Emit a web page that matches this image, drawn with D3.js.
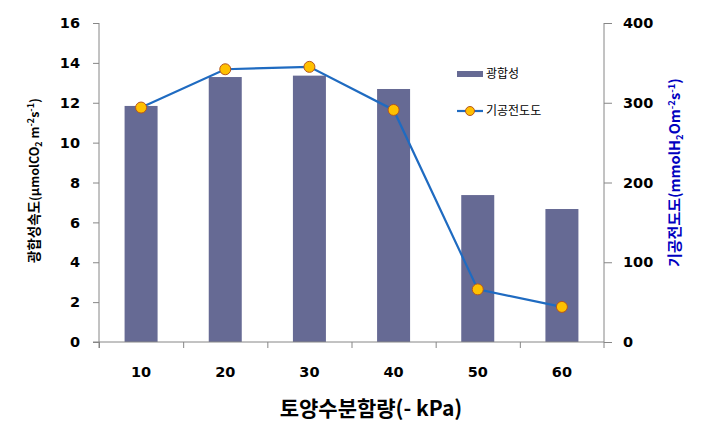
<!DOCTYPE html>
<html><head><meta charset="utf-8">
<script src="https://cdn.jsdelivr.net/npm/d3@7/dist/d3.min.js"></script>
<style>body{margin:0;background:#fff}svg{display:block}</style>
</head><body><svg id="c" width="713" height="433"></svg>
<script>
const categories = ["10","20","30","40","50","60"];
const photosynthesis = [11.84, 13.29, 13.36, 12.69, 7.37, 6.67];
const conductance = [294, 342, 345, 291, 66, 44];
const leftTicks = [0,2,4,6,8,10,12,14,16];
const rightTicks = [0,100,200,300,400];

const svg = d3.select("#c");
const L = 99, R = 604, T = 23, B = 342;
const xc = d3.scaleBand().domain(categories).range([L, R]);
const yL = d3.scaleLinear().domain([0,16]).range([B, T]);
const yR = d3.scaleLinear().domain([0,400]).range([B, T]);
const axisColor = "#868686";
const numFont = "'DejaVu Sans', sans-serif";
const kFont = "'Noto Sans CJK KR', sans-serif";

// bars
svg.append("g").selectAll("rect").data(photosynthesis).join("rect")
  .attr("x", (d,i)=> xc(categories[i]) + xc.bandwidth()/2 - 16.5)
  .attr("width", 33)
  .attr("y", d=>yL(d)).attr("height", d=>B - yL(d))
  .attr("fill", "#666a94");

// axes
const gL = svg.append("g").attr("transform", `translate(${L},0)`)
  .call(d3.axisLeft(yL).tickValues(leftTicks).tickSize(6).tickPadding(13));
const gR = svg.append("g").attr("transform", `translate(${R},0)`)
  .call(d3.axisRight(yR).tickValues(rightTicks).tickSize(8).tickPadding(11));
const gX = svg.append("g").attr("transform", `translate(0,${B})`)
  .call(d3.axisBottom(d3.scalePoint().domain(d3.range(7)).range([L,R])).tickValues(d3.range(6)).tickSize(6).tickFormat(""));
[gL,gR,gX].forEach(g=>{
  g.select(".domain").remove();
  g.selectAll("line").attr("stroke", axisColor);
  g.selectAll("text").attr("fill","#000").style("font-family",numFont).style("font-weight","bold").style("font-size","14.5px");
});
svg.append("line").attr("x1",L-6).attr("x2",R).attr("y1",B).attr("y2",B).attr("stroke",axisColor);
svg.append("line").attr("x1",L).attr("x2",L).attr("y1",T).attr("y2",B+6).attr("stroke",axisColor);
svg.append("line").attr("x1",R).attr("x2",R).attr("y1",T).attr("y2",B+6).attr("stroke",axisColor);

// x labels
svg.append("g").selectAll("text").data(categories).join("text")
  .attr("x", d=>xc(d)+xc.bandwidth()/2).attr("y", 377)
  .attr("text-anchor","middle").style("font-family",numFont).style("font-weight","bold").style("font-size","14.5px")
  .text(d=>d);

// line
const line = d3.line().x((d,i)=>xc(categories[i])+xc.bandwidth()/2).y(d=>yR(d));
svg.append("path").datum(conductance).attr("d", line).attr("fill","none").attr("stroke","#1f6bc1").attr("stroke-width",2.2);
svg.append("g").selectAll("circle").data(conductance).join("circle")
  .attr("cx",(d,i)=>xc(categories[i])+xc.bandwidth()/2).attr("cy",d=>yR(d)).attr("r",5.5)
  .attr("fill","#ffc000").attr("stroke","#b5561e").attr("stroke-width",1);

// titles
svg.append("text").attr("x", 371).attr("y", 416).attr("text-anchor","middle")
  .style("font-family",kFont).style("font-weight","bold").style("font-size","21px").text("토양수분함량(- kPa)");

function build(t, kor, parts, big, small){
  t.append("tspan").text(kor);
  parts.forEach(([s, kind])=>{
    const ts = t.append("tspan").text(s).attr("font-size", big);
    if (kind==="sub") ts.attr("font-size", small).attr("dy", 3);
    else if (kind==="sup") ts.attr("font-size", small).attr("dy", -5);
    else if (kind==="afterSub") ts.attr("dy", -3);
    else if (kind==="afterSup") ts.attr("dy", 5);
  });
}
const lt = svg.append("text").attr("transform","translate(39,263) rotate(-90)").attr("text-anchor","start")
  .attr("font-family",kFont).attr("font-weight","bold").attr("font-size","13.5px").attr("fill","#000");
build(lt, "광합성속도", [["(μmolCO"],["2","sub"],[" m","afterSub"],["-2","sup"],["s","afterSup"],["-1","sup"],[")","afterSup"]], "12.5px", "9px");

const rt = svg.append("text").attr("transform","translate(680,267) rotate(-90)").attr("text-anchor","start")
  .attr("font-family",kFont).attr("font-weight","bold").attr("font-size","15px").attr("fill","#0000c0");
build(rt, "기공전도도", [["(mmolH"],["2","sub"],["Om","afterSub"],["-2","sup"],["s","afterSup"],["-1","sup"],[")","afterSup"]], "14.5px", "9.5px");

// legend
const lg = svg.append("g");
lg.append("rect").attr("x",457).attr("y",71).attr("width",26).attr("height",6).attr("fill","#666a94");
lg.append("text").attr("x",486).attr("y",78).style("font-family",kFont).style("font-size","12px").text("광합성");
lg.append("line").attr("x1",457).attr("x2",483).attr("y1",111).attr("y2",111).attr("stroke","#1f6bc1").attr("stroke-width",2.2);
lg.append("circle").attr("cx",470).attr("cy",111).attr("r",4.5).attr("fill","#ffc000").attr("stroke","#b5561e");
lg.append("text").attr("x",486).attr("y",115).style("font-family",kFont).style("font-size","12px").text("기공전도도");
</script></body></html>
